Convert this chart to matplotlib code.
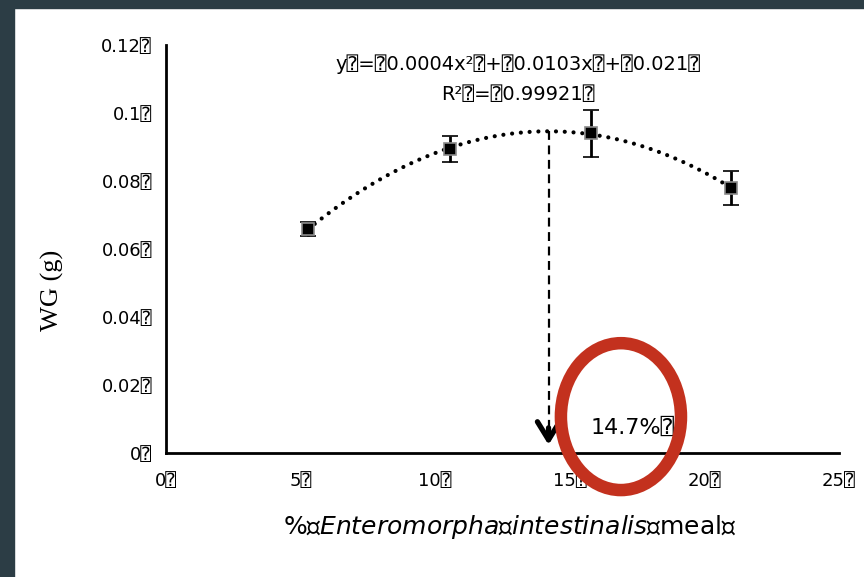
import numpy as np
import matplotlib
matplotlib.use("Agg")
import matplotlib.pyplot as plt
from matplotlib.patches import Ellipse

# Weight gain vs. dietary Enteromorpha intestinalis meal level
meal_pct = [5.27, 10.55, 15.79, 20.99]
wg_mean = [0.0659, 0.0894, 0.0941, 0.0779]
wg_err = [0.0021, 0.0038, 0.0069, 0.0050]

x_ticks = [0, 5, 10, 15, 20, 25]
y_ticks = [0, 0.02, 0.04, 0.06, 0.08, 0.1, 0.12]
box = "\u2370"
x_tick_labels = [f"{v}{box}" for v in x_ticks]
y_tick_labels = ["0" + box, "0.02" + box, "0.04" + box, "0.06" + box,
                 "0.08" + box, "0.1" + box, "0.12" + box]

eq_text = f"y{box}={box}0.0004x\u00b2{box}+{box}0.0103x{box}+{box}0.021{box}"
r2_text = f"R\u00b2{box}={box}0.99921{box}"
optimum_text = f"14.7%{box}"
x_label = f"%{box}$\\it{{Enteromorpha}}${box}$\\it{{intestinalis}}${box}meal{box}"

fam = ["DejaVu Sans", "DejaVu Sans Mono"]
plt.rcParams["font.family"] = fam
plt.rcParams["mathtext.fontset"] = "dejavusans"

fig = plt.figure(figsize=(8.64, 5.77), dpi=100, facecolor="white")
# dark frame along the top and left edges
fig.patches.append(plt.Rectangle((0, 1 - 8 / 577), 1, 8 / 577,
                                 transform=fig.transFigure, color="#2c3d45", zorder=0))
fig.patches.append(plt.Rectangle((0, 0), 14 / 864, 1,
                                 transform=fig.transFigure, color="#2c3d45", zorder=0))

ax = fig.add_axes([166 / 864, 1 - 453 / 577, (839 - 166) / 864, (453 - 45) / 577])
ax.set_xlim(0, 25)
ax.set_ylim(0, 0.12)

for s in ["top", "right"]:
    ax.spines[s].set_visible(False)
for s in ["left", "bottom"]:
    ax.spines[s].set_linewidth(2.0)
    ax.spines[s].set_color("black")

ax.set_xticks(x_ticks)
ax.set_xticklabels(x_tick_labels, fontsize=13)
ax.set_yticks(y_ticks)
ax.set_yticklabels(y_tick_labels, fontsize=13)
ax.tick_params(length=0, pad=14)
ax.tick_params(axis="y", pad=10)

# quadratic trend line over the measured range
coef = np.polyfit(meal_pct, wg_mean, 2)
xs = np.linspace(min(meal_pct), max(meal_pct), 300)
ax.plot(xs, np.polyval(coef, xs), color="black", lw=3.0,
        linestyle=(0, (0.01, 2.1)), dash_capstyle="round", zorder=2)

# data points with error bars
ax.errorbar(meal_pct, wg_mean, yerr=wg_err, fmt="s", color="black",
            ms=8.5, mfc="black", mec="#8a8a8a", mew=1.2,
            ecolor="black", elinewidth=2, capsize=6, capthick=2, zorder=3)

# dashed drop line from the curve maximum
x_opt = -coef[1] / (2 * coef[0])
y_opt = np.polyval(coef, x_opt)
y_tip = 0.0024
ax.plot([x_opt, x_opt], [y_opt, y_tip + 0.003], color="black", lw=1.6,
        linestyle=(0, (4, 2.5)), zorder=2)
ax.annotate("", xy=(x_opt, y_tip), xytext=(x_opt, y_tip + 0.005),
            arrowprops=dict(arrowstyle="->,head_length=1.3,head_width=0.8",
                            color="black", lw=3.8, shrinkA=0, shrinkB=0),
            annotation_clip=False)

ax.text(17.35, 0.0074, optimum_text, fontsize=16, ha="center", va="center",
        family=fam, zorder=4)
ax.add_patch(Ellipse((16.9, 0.0107), 4.46, 0.0432, fill=False,
                     edgecolor="#c3311e", lw=9, clip_on=False, zorder=5))

fig.text(518 / 864, 1 - 64 / 577, eq_text, fontsize=14, ha="center", va="center")
fig.text(518 / 864, 1 - 95 / 577, r2_text, fontsize=14, ha="center", va="center")

fig.text(510 / 864, 1 - 527 / 577, x_label, fontsize=18, ha="center", va="center")
fig.text(52 / 864, 1 - 290 / 577, "WG (g)", fontsize=19, rotation=90,
         ha="center", va="center", family=["Liberation Serif", "DejaVu Serif"])

fig.savefig("out.png", dpi=100, facecolor="white")
